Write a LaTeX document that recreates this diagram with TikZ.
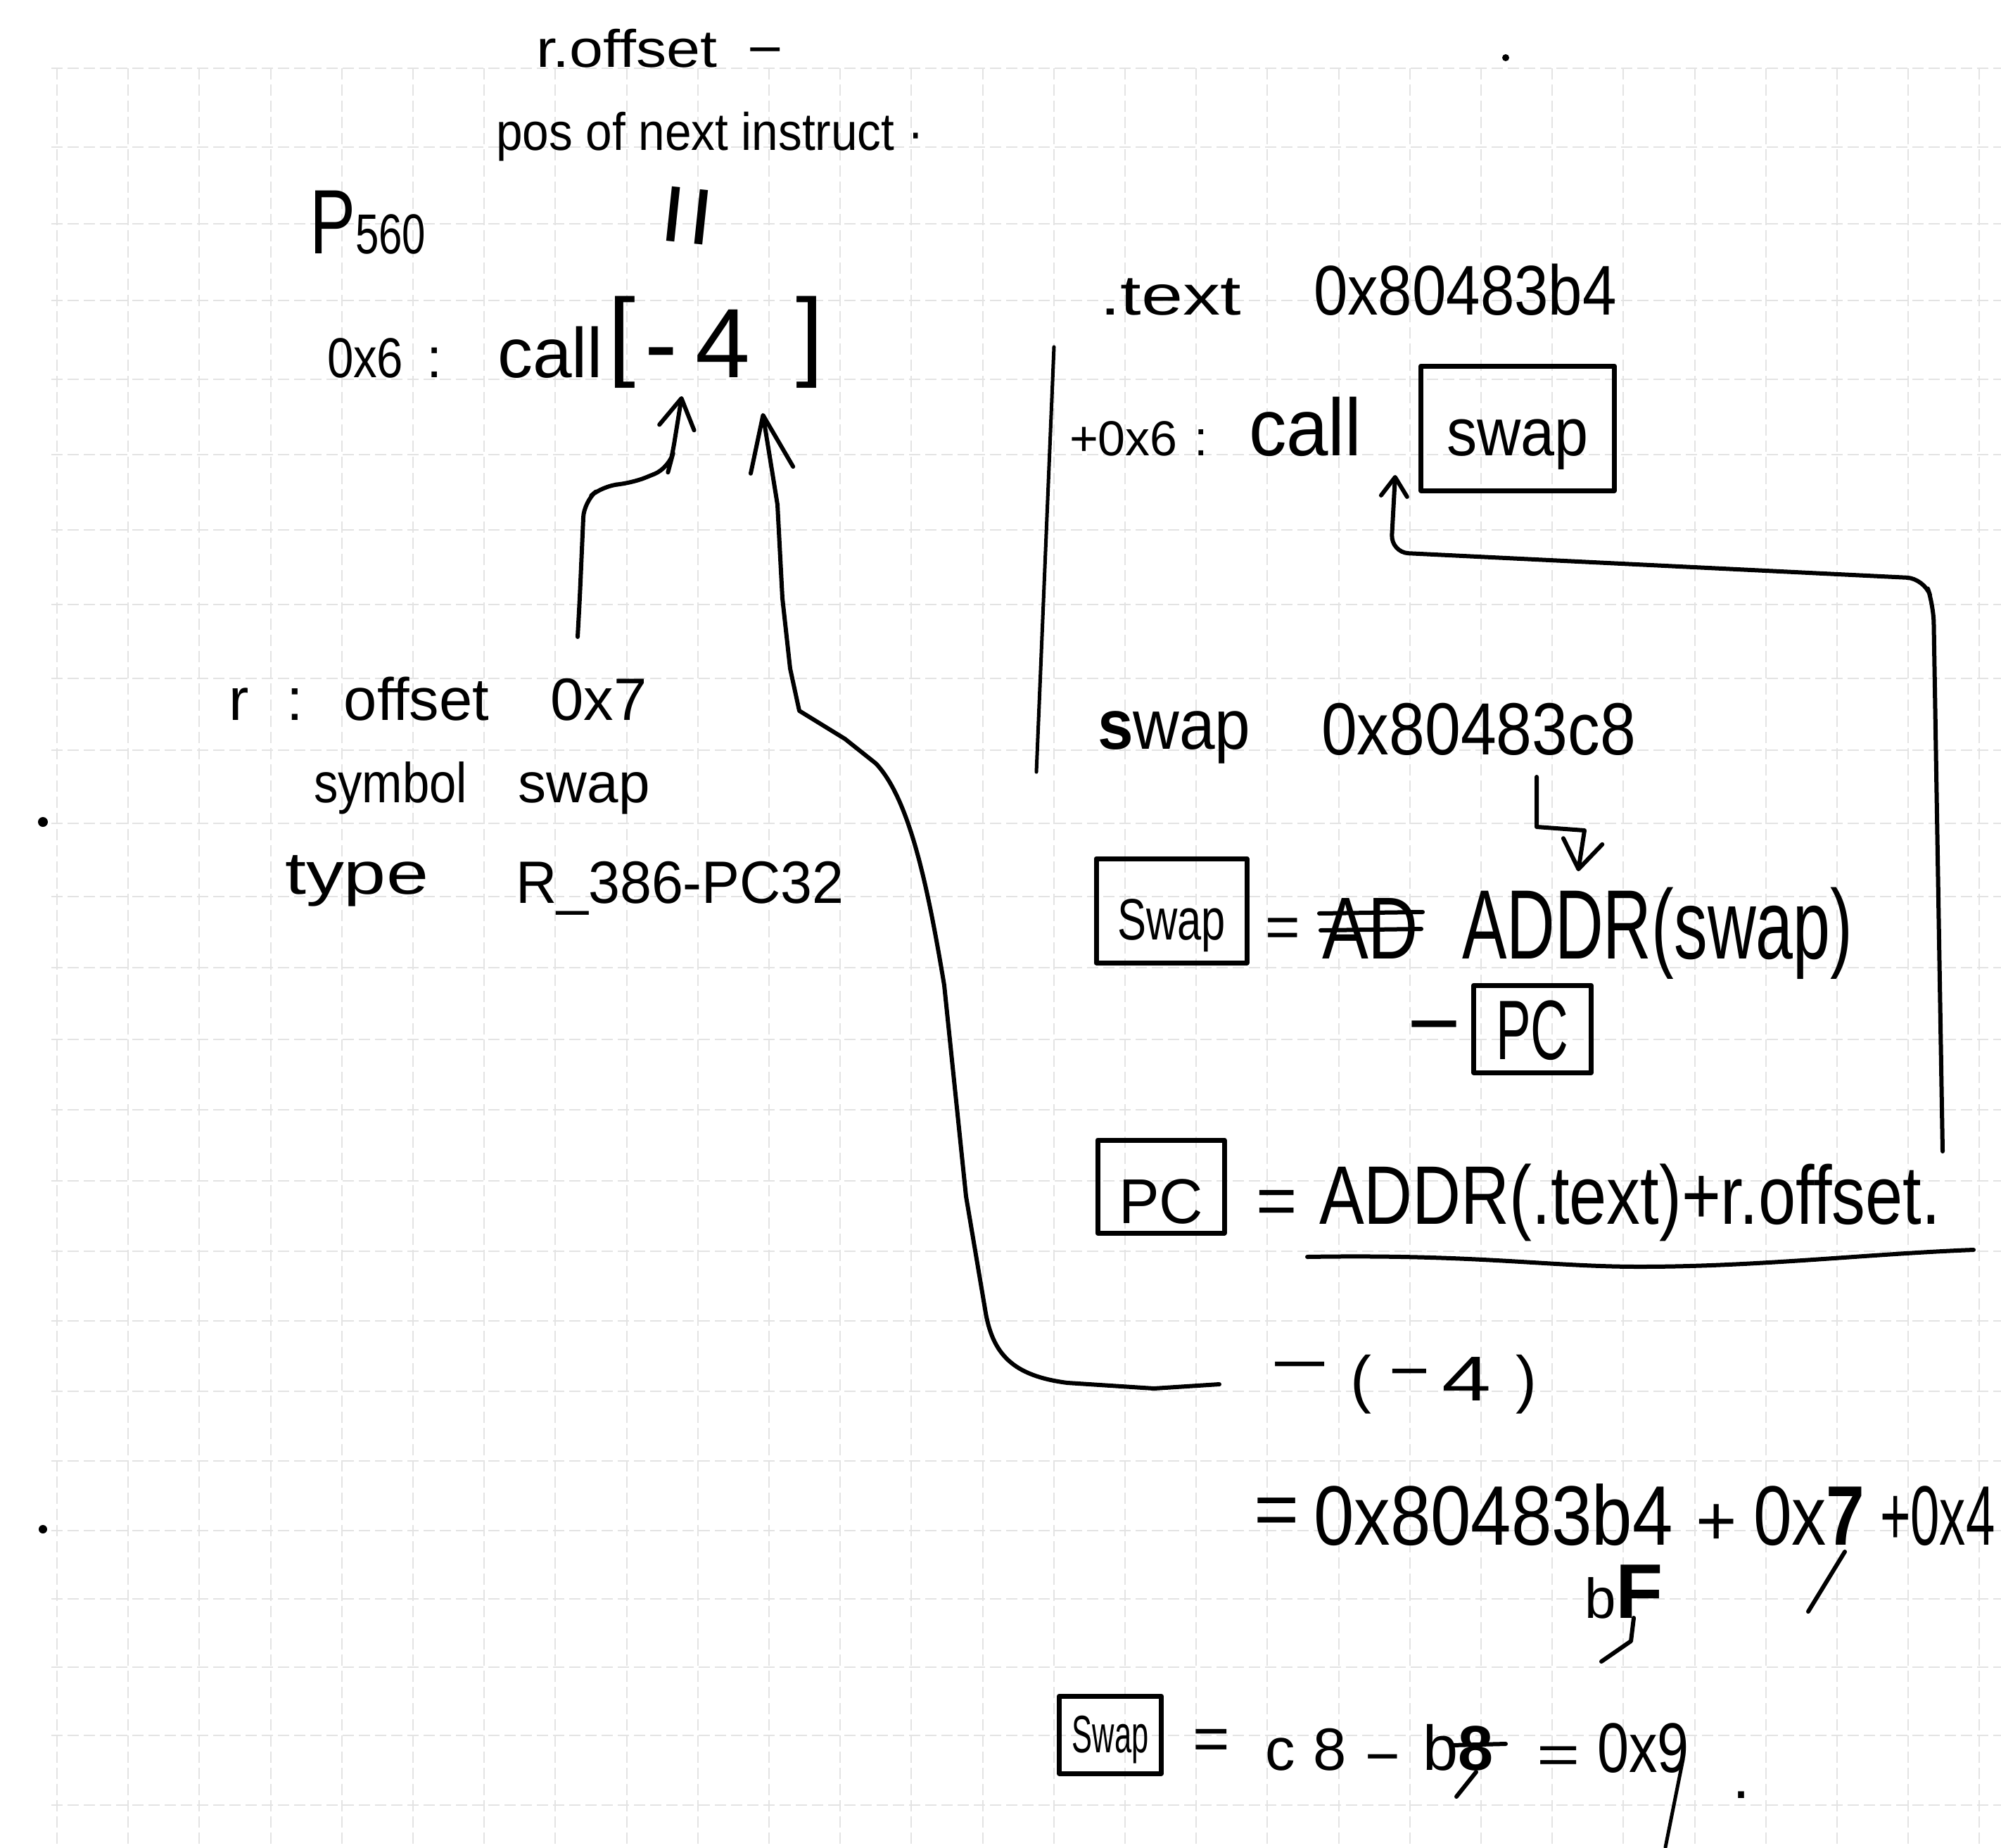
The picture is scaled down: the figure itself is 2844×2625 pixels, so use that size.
\documentclass[tikz,border=0pt]{standalone}
\usepackage{fontspec}
\setmainfont{Liberation Sans}
\usetikzlibrary{arrows.meta}
\newcommand\fsz[1]{\fontsize{#1pt}{#1pt}\selectfont}
\newcommand\hs[1]{\hspace{#1pt}}
\begin{document}
\begin{tikzpicture}[x=1pt,y=-1pt,
  txt/.style={inner sep=0pt, outer sep=0pt, anchor=base west},
  hbox/.style={draw, line width=7pt, inner sep=0pt, outer sep=0pt, anchor=base, line join=round},
  conn/.style={line width=6pt, line cap=round, line join=round},
  stroke/.style={line width=6pt, line cap=round, line join=round},
  bigbarb/.style={-{Straight Barb[length=79pt,width=61pt,round]}},
  midbarb/.style={-{Straight Barb[length=42pt,width=50pt,round]}},
  smallbarb/.style={-{Straight Barb[length=27pt,width=37pt,round]}},
  gridl/.style={black!11, line width=2pt, dash pattern=on 16pt off 7pt}]
\useasboundingbox (0,0) rectangle (2844,2625);
\fill[white] (0,0) rectangle (2844,2625);
\clip (0,0) rectangle (2844,2625);
% paper grid
\foreach \gy in {97,209,318,427,539,646,753,859,964,1066,1170,1274,1375,1477,1577,1678,1778,1877,1977,2076,2175,2272,2369,2466,2565}
  \draw[gridl] (73,\gy) -- (2844,\gy);
\foreach \k in {0,...,27}
  \draw[gridl] ({81+101.2*\k},97) -- ({81+101.2*\k},2625);
% specks
\fill (61,1168) circle (7);
\fill (61,2173) circle (6);
\fill (2140,82) circle (5);

% ---------- top left ----------
\node[txt] (roffA) at (762,96) {\fsz{75}\scalebox{1.15}[1]{r.offset\hspace{0.5em}−}};
\node[txt] (posnext) at (705,214) {\fsz{75}\scalebox{0.9}[1]{pos of next instruct ·}};
\node[txt] (pfive) at (440,360) {\scalebox{0.75}[1]{\fsz{130}P\fsz{80}560}};
\node[inner sep=0pt, rotate=84] (eqv) at (990,308) {\fsz{160}=};
\node[txt] (zx6) at (465,536) {\fsz{80}\scalebox{0.84}[1]{0x6}\hs{33}:};
\node[txt] (callm4) at (707,536) {\fsz{100}call\hs{7}\fsz{140}\raisebox{14pt}{[}\hs{14}-\hs{25}4\hs{65}\raisebox{14pt}{]}};
\coordinate (tipL) at (969,563);
\coordinate (tipR) at (1084,587);

% ---------- relocation entry ----------
\node[txt] (roff) at (325,1023) {\fsz{85}r\hs{54}:\hs{58}offset\hs{87}0x7};
\node[txt] (symb) at (446,1140) {\fsz{80}\scalebox{0.86}[1]{symbol}\hs{73}swap};
\node[txt] (typ) at (405,1270) {\fsz{85}\scalebox{1.27}[1]{type}};
\node[txt] (rtype) at (733,1283) {\fsz{85}\scalebox{0.95}[1]{R\_386-PC32}};
\coordinate (c1s) at (821,905);
\draw[conn, midbarb, rounded corners=22pt] (c1s) -- (824,850) -- (830,713) -- (857,690) -- (897,687) -- (951,665) -- (955,650) -- (tipL);

% ---------- .text section ----------
\node[txt] (dtext) at (1563,447) {\fsz{80}\scalebox{1.33}[1]{.text}};
\node[txt] (addrtext) at (1867,447) {\fsz{100}\scalebox{0.87}[1]{0x80483b4}};
\draw[stroke, line width=5pt] (1498,493) -- (1473,1097);
\node[txt] (plus6) at (1520,647) {\fsz{70}+0x6\hs{24}:};
\node[txt] (call2) at (1775,647) {\fsz{115}\scalebox{0.93}[1]{call}};
\node[hbox, text height=127pt, text depth=50pt, minimum width=275pt] (swapA) at (2157,647) {\fsz{96}\scalebox{0.9}[1]{swap}};

\node[txt] (swapsym) at (1560,1064) {\fsz{100}\scalebox{0.91}[1]{\textbf{s}wap}};
\node[txt] (addrswap) at (1878,1072) {\fsz{105}\scalebox{0.87}[1]{0x80483c8}};
\coordinate (c4s) at (2184,1104);
\coordinate (tip4) at (2243,1238);
\draw[conn, -{Straight Barb[length=40pt,width=56pt,round]}] (c4s) -- (2184,1175) -- (2252,1180) -- (tip4);

% swap = ADDR(swap) - PC
\node[hbox, text height=115pt, text depth=33pt, minimum width=214pt] (swapB) at (1665,1335) {\fsz{83}\scalebox{0.74}[1]{Swap}};
\node[txt] (eqB) at (1798,1346) {\fsz{85}=};
\node[txt] (adx) at (1879,1362) {\fsz{125}\scalebox{0.79}[1]{AD}};
\draw[stroke] (1875,1298) -- (2022,1296);
\draw[stroke] (1877,1322) -- (2020,1320);
\node[txt] (addrsw) at (2078,1362) {\fsz{140}\scalebox{0.68}[1]{ADDR(swap)}};
\node[txt] (minusPC) at (2000,1498) {\fsz{130}−};
\node[hbox, text height=105pt, text depth=19pt, minimum width=167pt] (pcA) at (2178,1505) {\fsz{120}\scalebox{0.62}[1]{PC}};

% PC = ADDR(.text) + r.offset
\node[hbox, text height=118pt, text depth=14pt, minimum width=180pt] (pcB) at (1650,1738) {\fsz{90}\scalebox{0.96}[1]{PC}};
\node[txt] (eqC) at (1785,1740) {\fsz{100}=};
\node[txt] (pcdef) at (1875,1739) {\fsz{118}\scalebox{0.81}[1]{ADDR(.text)+r.offset.}};
\draw[stroke] (1858,1786) .. controls (2100,1782) and (2200,1800) .. (2330,1800) .. controls (2500,1800) and (2650,1782) .. (2805,1776);
\coordinate (c3s) at (2761,1636);
\coordinate (tip3) at (1983,675);
\draw[conn, smallbarb, rounded corners=25pt] (c3s) -- (2748,860) -- (2735,822) -- (1977,785) -- (tip3);

% - (-4)
\node[txt] (mm4) at (1805,1990) {\fsz{90}\raisebox{22pt}{\scalebox{1.6}[1]{−}}\hs{30}(\hs{25}\raisebox{12pt}{\scalebox{1.1}[1]{−}}\hs{18}\scalebox{1.4}[1]{4}\hs{35})};
\coordinate (c2s) at (1733,1967);
\draw[conn, bigbarb] (c2s) -- (1640,1973) -- (1517,1965)
  .. controls (1440,1955) and (1410,1925) .. (1400,1860)
  -- (1373,1700) -- (1342,1400)
  .. controls (1318,1255) and (1292,1135) .. (1245,1085)
  -- (1201,1050) -- (1136,1010) -- (1123,950) -- (1112,850) -- (1105,717) -- (tipR);

% = 0x80483b4 + 0x7 + 0x4
\node[txt] (eqD) at (1782,2182) {\fsz{110}=};
\node[txt] (hexD) at (1867,2195) {\fsz{120}\scalebox{0.86}[1]{0x80483b4}};
\node[txt] (plusD) at (2410,2195) {\fsz{100}+};
\node[txt] (ox7) at (2492,2195) {\fsz{120}\scalebox{0.82}[1]{0x\textbf{7}}};
\draw[stroke] (2622,2205) -- (2570,2290);
\node[txt] (p0x4) at (2672,2195) {\fsz{120}\scalebox{0.62}[1]{+0x4}};
\node[txt] (bF) at (2252,2299) {\fsz{80}b\fsz{110}\textbf{F}};
\draw[stroke] (2322,2299) -- (2318,2332) -- (2276,2361);

% swap = c8 - b8 = 0x9
\node[hbox, text height=80pt, text depth=30pt, minimum width=145pt] (swapC) at (1578,2490) {\fsz{75}\scalebox{0.58}[1]{Swap}};
\node[txt] (eqE) at (1695,2501) {\fsz{90}=};
\node[txt] (c8) at (1798,2515) {\fsz{85}c\hs{26}8};
\node[txt] (minE) at (1940,2524) {\fsz{85}−};
\node[txt] (b8) at (2022,2515) {\fsz{90}b\textbf{8}};
\draw[stroke] (2062,2480) -- (2140,2478);
\draw[stroke] (2098,2518) -- (2070,2553);
\node[txt] (eqF) at (2184,2520) {\fsz{105}\scalebox{1}[0.75]{=}};
\node[txt] (ox9) at (2270,2518) {\fsz{100}\scalebox{0.81}[1]{0x9}};
\draw[stroke, line width=5pt] (2392,2500) -- (2367,2625);
\node[txt] (dotE) at (2462,2555) {\fsz{90}.};
\end{tikzpicture}
\end{document}
